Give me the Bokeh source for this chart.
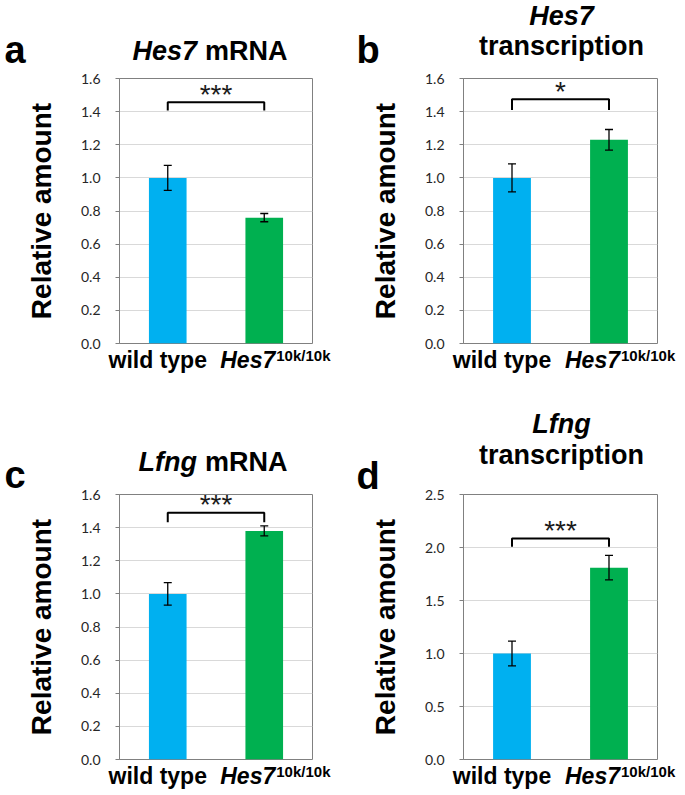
from bokeh.plotting import figure
from bokeh.layouts import column, row
from bokeh.models import (Range1d, FixedTicker, PrintfTickFormatter,
                          Whisker, TeeHead, ColumnDataSource)
from bokeh.core.properties import value
from bokeh.embed import file_html
from bokeh.resources import INLINE

# ---------------- data ----------------
categories = ["wild type", "Hes7"]
superscript = "10k/10k"
x_pos = [0, 1]
bar_colors = ["#00B0F0", "#00B050"]

hes7_mrna = [1.00, 0.76]
hes7_mrna_err = [0.075, 0.025]
hes7_tx = [1.00, 1.23]
hes7_tx_err = [0.085, 0.062]
lfng_mrna = [1.00, 1.38]
lfng_mrna_err = [0.068, 0.030]
lfng_tx = [1.00, 1.81]
lfng_tx_err = [0.117, 0.115]

ticks_a = [0.0, 0.2, 0.4, 0.6, 0.8, 1.0, 1.2, 1.4, 1.6]
ticks_b = [0.0, 0.2, 0.4, 0.6, 0.8, 1.0, 1.2, 1.4, 1.6]
ticks_c = [0.0, 0.2, 0.4, 0.6, 0.8, 1.0, 1.2, 1.4, 1.6]
ticks_d = [0.0, 0.5, 1.0, 1.5, 2.0, 2.5]

bracket_low = [1.407, 1.41, 1.433, 2.006]
bracket_high = [1.457, 1.475, 1.49, 2.085]
significance = ["***", "*", "***", "***"]

panel_letters = ["a", "b", "c", "d"]
y_label = "Relative amount"

FONT = "Liberation Sans"
TICK_FONT = "Lato"
GRAY = "#808080"


def txt(p, x, y, text, dx, dy, size, style, align, font=FONT, color="black"):
    # text glyph drawn at overlay level (not clipped to the frame); dy > 0 moves down
    p.text(x=[x], y=[y], text=[text], x_offset=dx, y_offset=dy,
           text_font=value(font), text_font_size=value(size),
           text_font_style=style, text_align=align,
           text_baseline="alphabetic", text_color=color, level="overlay")


def make_panel(vals, errs, ticks, blo, bhi, sig, letter, title, geom):
    fl, fw, fr, ft, fb, letter_dx, letter_dy, title_dy = geom
    ymin, ymax = ticks[0], ticks[-1]
    p = figure(frame_width=fw, frame_height=265,
               min_border_left=fl, min_border_right=fr,
               min_border_top=ft, min_border_bottom=fb,
               x_range=Range1d(-0.5, 1.5), y_range=Range1d(ymin, ymax),
               output_backend="svg", toolbar_location=None, tools="")
    p.outline_line_color = GRAY
    p.outline_line_width = 1
    p.background_fill_color = "white"
    p.border_fill_color = "white"
    p.xaxis.visible = False
    p.xgrid.visible = False
    p.ygrid.grid_line_color = "#d9d9d9"
    p.ygrid.grid_line_width = 1

    ax = p.yaxis[0]
    ax.ticker = FixedTicker(ticks=ticks)
    ax.formatter = PrintfTickFormatter(format="%.1f")
    ax.major_tick_out = 4
    ax.major_tick_in = 0
    ax.minor_tick_out = 0
    ax.minor_tick_in = 0
    ax.axis_line_color = GRAY
    ax.major_tick_line_color = GRAY
    ax.major_label_text_font = TICK_FONT
    ax.major_label_text_font_size = "14px"
    ax.major_label_text_color = "#262626"
    ax.major_label_standoff = 15
    ax.axis_label = y_label
    ax.axis_label_text_font = FONT
    ax.axis_label_text_font_style = "bold"
    ax.axis_label_text_font_size = "28px"
    ax.axis_label_text_color = "black"
    ax.axis_label_standoff = 21

    src = ColumnDataSource(dict(
        x=x_pos, top=vals, color=bar_colors,
        upper=[v + e for v, e in zip(vals, errs)],
        lower=[v - e for v, e in zip(vals, errs)]))
    p.vbar(x="x", top="top", width=0.39, fill_color="color",
           line_color=None, source=src)
    p.add_layout(Whisker(base="x", upper="upper", lower="lower", source=src,
                         line_color="black", line_width=1.3, level="overlay",
                         upper_head=TeeHead(size=8, line_color="black", line_width=1.3),
                         lower_head=TeeHead(size=8, line_color="black", line_width=1.3)))

    # significance bracket
    p.line(x=[x_pos[0], x_pos[0], x_pos[1], x_pos[1]],
           y=[blo, bhi, bhi, blo], line_color="black", line_width=2)
    mid = (x_pos[0] + x_pos[1]) / 2
    txt(p, mid, bhi, sig, 0, -8, "28px", "normal", "center", color="#1a1a1a")

    # x category labels
    txt(p, x_pos[0], ymin, categories[0], -10, 16, "23px", "bold", "center")
    txt(p, x_pos[1], ymin, categories[1], -44, 16, "23px", "bold italic", "left")
    txt(p, x_pos[1], ymin, superscript, 12, 12, "15px", "bold", "left")

    # panel letter
    txt(p, -0.5, ymax, letter, letter_dx, letter_dy, "38px", "bold", "left")

    # title
    if title[2] == "one":
        txt(p, mid, ymax, title[0], -19, title_dy[0], "27px", "bold italic", "right")
        txt(p, mid, ymax, title[1], -11, title_dy[0], "27px", "bold", "left")
    else:
        txt(p, mid, ymax, title[0], 1, title_dy[0], "27px", "bold italic", "center")
        txt(p, mid, ymax, title[1], 1, title_dy[1], "27px", "bold", "center")
    return p


pa = make_panel(hes7_mrna, hes7_mrna_err, ticks_a, bracket_low[0], bracket_high[0],
                significance[0], panel_letters[0], ("Hes7", "mRNA", "one"),
                (119, 193, 30, 78, 51, -115, -29, (-28,)))
pb = make_panel(hes7_tx, hes7_tx_err, ticks_b, bracket_low[1], bracket_high[1],
                significance[1], panel_letters[1], ("Hes7", "transcription", "two"),
                (121, 194, 27, 78, 51, -107, -29, (-63, -33)))
pc = make_panel(lfng_mrna, lfng_mrna_err, ticks_c, bracket_low[2], bracket_high[2],
                significance[2], panel_letters[2], ("Lfng", "mRNA", "one"),
                (119, 193, 30, 100, 34, -115, -20, (-33,)))
pd = make_panel(lfng_tx, lfng_tx_err, ticks_d, bracket_low[3], bracket_high[3],
                significance[3], panel_letters[3], ("Lfng", "transcription", "two"),
                (121, 194, 27, 100, 34, -107, -19, (-71, -40)))

layout = column(row(pa, pb), row(pc, pd))
open("out.html", "w").write(file_html(layout, INLINE))
